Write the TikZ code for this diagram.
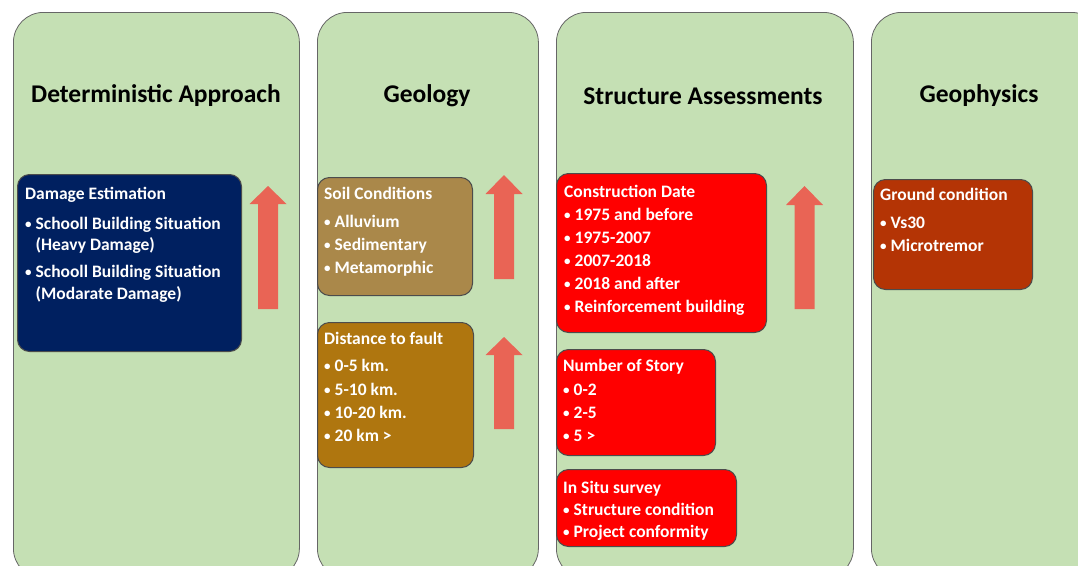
\documentclass[tikz,border=0pt]{standalone}
\usepackage{fontspec}
\setmainfont{Carlito}
\usepackage{xcolor}
\usepackage{tikz}
\usetikzlibrary{positioning}
\definecolor{colgreen}{RGB}{197,224,180}
\definecolor{navybox}{RGB}{0,32,96}
\definecolor{soilbox}{RGB}{170,136,74}
\definecolor{faultbox}{RGB}{175,118,15}
\definecolor{redbox}{RGB}{255,0,0}
\definecolor{groundbox}{RGB}{180,52,5}
\definecolor{arrowred}{RGB}{233,100,85}
\newcommand{\bul}{\raisebox{1pt}{\fontsize{13}{13}\selectfont•}\hspace{4pt}}
% block arrow pointing up: centre x, tip y, head base y, bottom y
\newcommand{\uparr}[4]{%
  \fill[arrowred] (#1-10,#4) -- (#1-10,#3) -- (#1-18.5,#3) -- (#1,#2)
    -- (#1+18.5,#3) -- (#1+10,#3) -- (#1+10,#4) -- cycle;}

\begin{document}
\begin{tikzpicture}[
  x=1pt, y=-1pt,
  column/.style={draw=gray!80!black, fill=colgreen, rounded corners=30pt,
                 anchor=north west, line width=0.8pt, inner sep=0pt},
  coltitle/.style={font=\fontsize{25.5}{30}\selectfont\bfseries, text=black},
  card/.style={draw=black!70, line width=1pt, rounded corners=12pt,
               anchor=north west, inner sep=0pt},
  cardtext/.style={font=\fontsize{17.5}{23}\selectfont\bfseries, text=white,
                   align=left, inner sep=0pt, anchor=north west,
                   execute at begin node=\rule{0pt}{14pt}}]
\useasboundingbox (0,0) rectangle (1078,565);
\clip (0,0) rectangle (1078,565);
\fill[white] (0,0) rectangle (1078,565);

% columns
\node[column, minimum width=286, minimum height=566] (colDet)  at (13,12)  {};
\node[column, minimum width=221, minimum height=566] (colGeo)  at (317,12) {};
\node[column, minimum width=297, minimum height=566] (colStr)  at (556,12) {};
\node[column, minimum width=230, minimum height=566] (colPhy)  at (871,12) {};
\node[coltitle] (tDet) at (156,96) {Deterministic Approach};
\node[coltitle] (tGeo) at (427,96) {Geology};
\node[coltitle] (tStr) at (703,96) {Structure Assessments};
\node[coltitle] (tPhy) at (979,96) {Geophysics};

% boxes
\node[card, fill=navybox,   minimum width=224, minimum height=177] (dmg)    at (17,174)  {};
\node[card, fill=soilbox,   minimum width=155, minimum height=118] (soil)   at (317,177) {};
\node[card, fill=faultbox,  minimum width=156, minimum height=145] (fault)  at (317,322) {};
\node[card, fill=redbox,    minimum width=210, minimum height=159] (cdate)  at (556,173) {};
\node[card, fill=redbox,    minimum width=159, minimum height=106] (story)  at (556,349) {};
\node[card, fill=redbox,    minimum width=180, minimum height=77]  (situ)   at (556,469) {};
\node[card, fill=groundbox, minimum width=159, minimum height=110] (ground) at (873,179) {};

% texts (y = first baseline - 14)
\node[cardtext] (dmgT) at (25,186.6) {Damage Estimation\\[7pt]
  \bul Schooll Building Situation\\[-1.5pt]
  \phantom{\bul}(Heavy Damage)\\[3.5pt]
  \bul Schooll Building Situation\\[-1pt]
  \phantom{\bul}(Modarate Damage)};
\node[cardtext] (soilT) at (324,186.6) {Soil Conditions\\[5pt]
  \bul Alluvium\\ \bul Sedimentary\\ \bul Metamorphic};
\node[cardtext] (faultT) at (324,331.6) {Distance to fault\\[4pt]
  \bul 0-5 km.\\[1pt] \bul 5-10 km.\\ \bul 10-20 km.\\ \bul 20 km >};
\node[cardtext] (cdateT) at (564,184.6) {Construction Date\\ \bul 1975 and before\\
  \bul 1975-2007\\ \bul 2007-2018\\ \bul 2018 and after\\ \bul Reinforcement building};
\node[cardtext] (storyT) at (563,358.6) {Number of Story\\[1pt] \bul 0-2\\ \bul 2-5\\ \bul 5 >};
\node[cardtext] (situT) at (563,480.6) {In Situ survey\\[-1pt]
  \bul Structure condition\\[-1pt] \bul Project conformity};
\node[cardtext] (groundT) at (880,187.6) {Ground condition\\[5pt]
  \bul Vs30\\ \bul Microtremor};

% arrows
\uparr{268}{186}{204}{309}
\uparr{504}{175}{194}{279}
\uparr{504}{337}{355}{429}
\uparr{804.5}{186}{205}{309}
\end{tikzpicture}
\end{document}
